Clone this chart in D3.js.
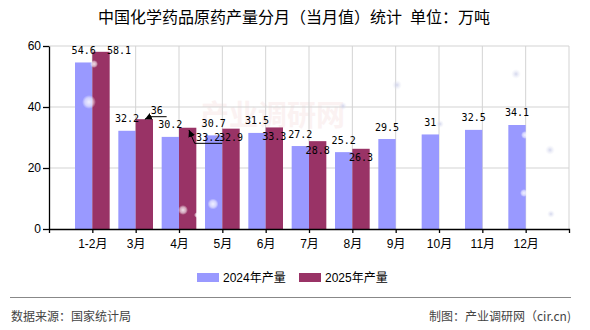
<!DOCTYPE html>
<html>
<head>
<meta charset="utf-8">
<script src="https://cdn.jsdelivr.net/npm/d3@7"></script>
<style>
  html, body { margin: 0; padding: 0; background: #fff; }
  svg { display: block; }
</style>
</head>
<body>
<script>
// ---- data ----
const categories = ["1-2月","3月","4月","5月","6月","7月","8月","9月","10月","11月","12月"];
const values2024 = [54.6, 32.2, 30.2, 30.7, 31.5, 27.2, 25.2, 29.5, 31, 32.5, 34.1];
const values2025 = [58.1, 36, 33.2, 32.9, 33.3, 28.8, 26.3];
const seriesNames = ["2024年产量", "2025年产量"];
const yTickValues = [0, 20, 40, 60];
const titleText = "中国化学药品原药产量分月（当月值）统计\u2002单位：万吨";
const sourceText = "数据来源：国家统计局";
const creditText = "制图：产业调研网（cir.cn)";

// ---- layout / style ----
const W = 590, H = 330;
const plot = { left: 49, right: 569, top: 46, bottom: 229 };
const colors = ["#9999FF", "#993366"];
const labelFont = "'DejaVu Sans Mono', monospace";
const sansFont = "'Liberation Sans', 'Noto Sans CJK SC', sans-serif";
const cjkFont = "'Noto Sans CJK SC', sans-serif";

const svg = d3.select("body").append("svg").attr("width", W).attr("height", H);

const defs = svg.append("defs");
defs.append("marker").attr("id", "arrow").attr("viewBox", "0 0 10 10")
  .attr("refX", 10).attr("refY", 5).attr("markerWidth", 7).attr("markerHeight", 7)
  .attr("markerUnits", "userSpaceOnUse").attr("orient", "auto")
  .append("path").attr("d", "M0,0 L10,5 L0,10 z").attr("fill", "#000");
const rg = defs.append("radialGradient").attr("id", "bub");
rg.append("stop").attr("offset", "0%").attr("stop-color", "#fff").attr("stop-opacity", 0.85);
rg.append("stop").attr("offset", "60%").attr("stop-color", "#fff").attr("stop-opacity", 0.55);
rg.append("stop").attr("offset", "100%").attr("stop-color", "#fff").attr("stop-opacity", 0);
const rg2 = defs.append("radialGradient").attr("id", "bubBlue");
rg2.append("stop").attr("offset", "0%").attr("stop-color", "#c8cce8").attr("stop-opacity", 0.8);
rg2.append("stop").attr("offset", "100%").attr("stop-color", "#e6e8f5").attr("stop-opacity", 0);

// ---- scales ----
const x = d3.scalePoint().domain(categories).range([plot.left, plot.right]).padding(1);
const y = d3.scaleLinear().domain([0, 60]).range([plot.bottom, plot.top]);
const bw = x.step() * 0.4;

// ---- title ----
svg.append("text").attr("x", 294).attr("y", 23).attr("text-anchor", "middle")
  .attr("font-family", cjkFont).attr("font-size", 16).attr("fill", "#000").text(titleText);

// ---- watermark ----
svg.append("text").attr("x", 200).attr("y", 126)
  .attr("font-family", cjkFont).attr("font-size", 29).attr("font-weight", 700)
  .attr("fill", "#fbf2f2").text("产业调研网");

// ---- grid ----
const grid = svg.append("g");
grid.selectAll("line.h").data(yTickValues.filter(v => v > 0)).join("line")
  .attr("x1", plot.left).attr("x2", plot.right)
  .attr("y1", d => y(d)).attr("y2", d => y(d))
  .attr("stroke", "#d3d3d3").attr("stroke-width", 1);
grid.selectAll("line.v").data(categories).join("line")
  .attr("x1", d => x(d)).attr("x2", d => x(d))
  .attr("y1", plot.top).attr("y2", plot.bottom)
  .attr("stroke", "#d3d3d3").attr("stroke-width", 1);
grid.append("line").attr("x1", plot.right).attr("x2", plot.right)
  .attr("y1", plot.top).attr("y2", plot.bottom).attr("stroke", "#d3d3d3");

// ---- bars ----
const bars = svg.append("g");
bars.selectAll("rect.s0").data(values2024).join("rect")
  .attr("x", (d, i) => x(categories[i]) - bw).attr("width", bw)
  .attr("y", d => y(d)).attr("height", d => y(0) - y(d)).attr("fill", colors[0]);
bars.selectAll("rect.s1").data(values2025).join("rect")
  .attr("x", (d, i) => x(categories[i])).attr("width", bw)
  .attr("y", d => y(d)).attr("height", d => y(0) - y(d)).attr("fill", colors[1]);

// ---- decorative bubbles ----
const deco = svg.append("g");
[[89,102,7,"bub"],[94,64,4,"bub"],[183,210,5,"bub"],[213,204,5.5,"bub"],[197,215,3,"bub"],
 [525,135,4,"bub"],[524,193,4,"bub"],[397,85,5,"bubBlue"],[37,168,5,"bubBlue"],
 [516,74,5,"bubBlue"],[550,150,5,"bubBlue"],[551,214,4,"bubBlue"],[343,106,4,"bubBlue"],[440,124,4,"bubBlue"]]
 .forEach(([cx, cy, r, g]) => deco.append("circle").attr("cx", cx).attr("cy", cy).attr("r", r).attr("fill", `url(#${g})`));

// ---- axes ----
const xAxis = svg.append("g").attr("transform", `translate(0,${plot.bottom})`)
  .call(d3.axisBottom(x).tickSizeInner(4).tickSizeOuter(4).tickPadding(6));
xAxis.selectAll("text").attr("font-family", sansFont).attr("font-size", 12).attr("fill", "#000");
const yAxis = svg.append("g").attr("transform", `translate(${plot.left},0)`)
  .call(d3.axisLeft(y).tickValues(yTickValues).tickSizeInner(6).tickSizeOuter(0).tickPadding(2));
yAxis.selectAll("text").attr("font-family", sansFont).attr("font-size", 12).attr("fill", "#000");
svg.selectAll(".domain, .tick line").attr("stroke", "#000").attr("stroke-width", 1.3);

// ---- value labels ----
const labels = svg.append("g").attr("font-family", labelFont).attr("font-size", 10)
  .attr("fill", "#000").attr("text-anchor", "middle");
values2024.forEach((v, i) => {
  const xc = x(categories[i]) - bw / 2, yt = y(v);
  labels.append("text").attr("x", xc).attr("y", yt - 12).attr("dy", "0.35em").text(v);
});
// placement tweaks for crowded 2025 labels (offsets from bar top-centre)
const adjust2025 = {
  0: { dx: 18, dy: -1 },
  1: { dx: 12.5, dy: -9.2, leader: [[22.3, -2.5], [6, -2.5], [0.5, 0]] },
  2: { dx: 20.5, dy: 9.6, leader: [[34.7, 15.6], [7, 15.6], [1.3, 2.3]] }
};
values2025.forEach((v, i) => {
  const xc = x(categories[i]) + bw / 2, yt = y(v);
  const a = adjust2025[i] || { dx: 0, dy: 9 };
  labels.append("text").attr("x", xc + a.dx).attr("y", yt + a.dy).attr("dy", "0.35em").text(v);
  if (a.leader) {
    svg.append("path")
      .attr("d", d3.line()(a.leader.map(([dx, dy]) => [xc + dx, yt + dy])))
      .attr("fill", "none").attr("stroke", "#000").attr("stroke-width", 1)
      .attr("marker-end", "url(#arrow)");
  }
});

// ---- legend ----
const legendX = [197, 299];
const legend = svg.append("g");
seriesNames.forEach((name, i) => {
  legend.append("rect").attr("x", legendX[i]).attr("y", 273).attr("width", 22).attr("height", 9).attr("fill", colors[i]);
  legend.append("text").attr("x", legendX[i] + 26).attr("y", 282)
    .attr("font-family", sansFont).attr("font-size", 12).attr("fill", "#000").text(name);
});

// ---- footer ----
svg.append("line").attr("x1", 10).attr("x2", 571).attr("y1", 297.5).attr("y2", 297.5)
  .attr("stroke", "#888").attr("stroke-width", 1.2);
svg.append("text").attr("x", 11).attr("y", 320.5).attr("font-family", cjkFont)
  .attr("font-size", 12).attr("fill", "#444").text(sourceText);
svg.append("text").attr("x", 571).attr("y", 320.5).attr("text-anchor", "end").attr("font-family", cjkFont)
  .attr("font-size", 12).attr("fill", "#444").text(creditText);
</script>
</body>
</html>
